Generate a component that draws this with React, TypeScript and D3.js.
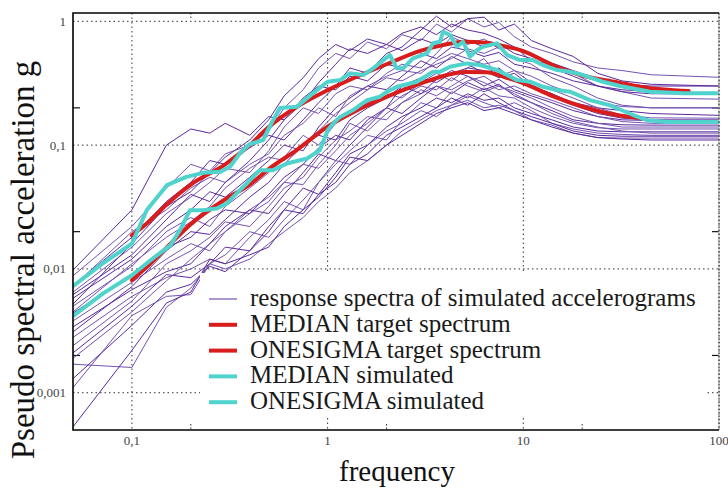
import { useEffect, useRef } from 'react';
import * as d3 from 'd3';

const width = 728;
const height = 488;

// frequency grid of the simulated response spectra
const freqs = [0.05, 0.1, 0.15, 0.2, 0.25, 0.3, 0.4, 0.5, 0.6, 0.75, 0.9, 1.1, 1.3, 1.6, 2, 2.4, 3, 3.6, 4.3, 5.2, 6.3, 7.5, 9, 11, 14, 18, 24, 32, 45, 100];

const spectra: number[][] = [
  [0.0098, 0.03, 0.1, 0.135, 0.125, 0.15, 0.12, 0.17, 0.16, 0.24, 0.3, 0.28, 0.36, 0.33, 0.45, 0.42, 0.55, 0.5, 0.62, 0.58, 0.52, 0.56, 0.45, 0.42, 0.38, 0.33, 0.3, 0.28, 0.27, 0.26],
  [0.0088, 0.022, 0.045, 0.07, 0.062, 0.085, 0.1, 0.13, 0.2, 0.28, 0.42, 0.55, 0.5, 0.68, 0.6, 0.78, 0.7, 0.95, 0.82, 1.05, 0.9, 0.98, 0.75, 0.62, 0.55, 0.47, 0.42, 0.4, 0.37, 0.353],
  [0.0074, 0.018, 0.035, 0.05, 0.075, 0.07, 0.095, 0.12, 0.11, 0.16, 0.22, 0.3, 0.42, 0.38, 0.55, 0.62, 0.85, 1.1, 0.9, 1.05, 1.08, 0.85, 0.95, 0.7, 0.6, 0.52, 0.38, 0.33, 0.31, 0.3],
  [0.0065, 0.015, 0.028, 0.038, 0.05, 0.065, 0.06, 0.09, 0.14, 0.2, 0.18, 0.26, 0.3, 0.28, 0.38, 0.45, 0.42, 0.55, 0.75, 0.65, 0.72, 0.6, 0.62, 0.48, 0.45, 0.38, 0.3, 0.27, 0.24, 0.235],
  [0.0058, 0.012, 0.022, 0.03, 0.042, 0.038, 0.055, 0.075, 0.1, 0.09, 0.14, 0.2, 0.24, 0.3, 0.28, 0.36, 0.48, 0.42, 0.52, 0.45, 0.38, 0.42, 0.33, 0.3, 0.26, 0.22, 0.2, 0.19, 0.18, 0.174],
  [0.005, 0.0105, 0.02, 0.026, 0.022, 0.032, 0.045, 0.06, 0.08, 0.12, 0.1, 0.15, 0.18, 0.22, 0.26, 0.24, 0.32, 0.38, 0.33, 0.42, 0.5, 0.36, 0.4, 0.32, 0.28, 0.24, 0.2, 0.175, 0.166, 0.165],
  [0.0044, 0.009, 0.015, 0.018, 0.025, 0.03, 0.028, 0.04, 0.055, 0.07, 0.095, 0.12, 0.11, 0.16, 0.2, 0.3, 0.26, 0.34, 0.4, 0.36, 0.3, 0.34, 0.28, 0.25, 0.22, 0.19, 0.17, 0.16, 0.158, 0.158],
  [0.0038, 0.0078, 0.012, 0.016, 0.014, 0.02, 0.03, 0.038, 0.05, 0.048, 0.07, 0.1, 0.15, 0.13, 0.18, 0.22, 0.28, 0.25, 0.3, 0.36, 0.32, 0.28, 0.3, 0.26, 0.23, 0.2, 0.17, 0.155, 0.15, 0.15],
  [0.0034, 0.0068, 0.0095, 0.011, 0.016, 0.022, 0.03, 0.028, 0.04, 0.06, 0.085, 0.075, 0.1, 0.14, 0.2, 0.18, 0.24, 0.3, 0.26, 0.32, 0.28, 0.31, 0.25, 0.22, 0.19, 0.16, 0.15, 0.146, 0.145, 0.145],
  [0.0028, 0.006, 0.0085, 0.01, 0.012, 0.011, 0.018, 0.025, 0.035, 0.03, 0.05, 0.07, 0.09, 0.12, 0.11, 0.16, 0.22, 0.2, 0.27, 0.24, 0.29, 0.25, 0.24, 0.2, 0.17, 0.15, 0.138, 0.135, 0.135, 0.135],
  [0.0021, 0.005, 0.009, 0.0085, 0.011, 0.015, 0.014, 0.02, 0.03, 0.045, 0.04, 0.06, 0.085, 0.1, 0.14, 0.17, 0.2, 0.24, 0.22, 0.26, 0.23, 0.24, 0.2, 0.18, 0.16, 0.14, 0.13, 0.128, 0.128, 0.128],
  [0.0017, 0.0016, 0.0049, 0.007, 0.011, 0.013, 0.02, 0.018, 0.025, 0.036, 0.05, 0.075, 0.07, 0.1, 0.13, 0.15, 0.19, 0.17, 0.21, 0.25, 0.22, 0.2, 0.22, 0.19, 0.15, 0.135, 0.125, 0.122, 0.12, 0.12],
  [0.0013, 0.0035, 0.0065, 0.0075, 0.0105, 0.0095, 0.014, 0.022, 0.03, 0.028, 0.04, 0.05, 0.07, 0.085, 0.12, 0.14, 0.17, 0.2, 0.24, 0.21, 0.26, 0.22, 0.19, 0.17, 0.15, 0.13, 0.12, 0.118, 0.118, 0.118],
  [0.0011, 0.0042, 0.006, 0.0062, 0.011, 0.01, 0.012, 0.016, 0.02, 0.026, 0.035, 0.045, 0.06, 0.075, 0.1, 0.13, 0.16, 0.19, 0.21, 0.23, 0.2, 0.21, 0.19, 0.16, 0.145, 0.125, 0.115, 0.114, 0.114, 0.114],
  [0.00053, 0.0022, 0.0053, 0.0065, 0.012, 0.011, 0.013, 0.015, 0.022, 0.03, 0.038, 0.055, 0.08, 0.075, 0.1, 0.12, 0.15, 0.18, 0.2, 0.22, 0.19, 0.2, 0.18, 0.16, 0.14, 0.125, 0.115, 0.112, 0.11, 0.11],
  [0.0072, 0.02, 0.03, 0.045, 0.055, 0.05, 0.07, 0.085, 0.12, 0.15, 0.2, 0.17, 0.25, 0.3, 0.36, 0.4, 0.38, 0.48, 0.55, 0.5, 0.45, 0.48, 0.4, 0.36, 0.3, 0.26, 0.22, 0.205, 0.2, 0.2],
  [0.0062, 0.013, 0.025, 0.04, 0.035, 0.05, 0.075, 0.11, 0.16, 0.22, 0.32, 0.45, 0.6, 0.55, 0.65, 0.58, 0.72, 0.65, 0.78, 0.7, 0.62, 0.66, 0.55, 0.5, 0.42, 0.36, 0.3, 0.27, 0.26, 0.26],
  [0.0045, 0.011, 0.018, 0.024, 0.032, 0.045, 0.065, 0.08, 0.075, 0.1, 0.13, 0.18, 0.22, 0.28, 0.35, 0.33, 0.4, 0.45, 0.5, 0.6, 0.55, 0.62, 0.5, 0.45, 0.35, 0.3, 0.24, 0.21, 0.2, 0.2],
  [0.0031, 0.0072, 0.014, 0.02, 0.019, 0.025, 0.038, 0.05, 0.07, 0.1, 0.12, 0.11, 0.16, 0.2, 0.24, 0.3, 0.35, 0.32, 0.38, 0.42, 0.4, 0.35, 0.38, 0.3, 0.26, 0.21, 0.18, 0.165, 0.16, 0.16],
  [0.0024, 0.0055, 0.011, 0.014, 0.018, 0.024, 0.022, 0.032, 0.045, 0.055, 0.08, 0.11, 0.13, 0.17, 0.16, 0.22, 0.26, 0.3, 0.28, 0.33, 0.36, 0.3, 0.27, 0.24, 0.2, 0.17, 0.15, 0.14, 0.14, 0.14],
  [0.0052, 0.016, 0.032, 0.042, 0.06, 0.08, 0.11, 0.16, 0.25, 0.35, 0.5, 0.65, 0.58, 0.72, 0.65, 0.8, 0.9, 0.78, 0.95, 0.85, 0.8, 0.72, 0.62, 0.55, 0.46, 0.4, 0.34, 0.31, 0.3, 0.3],
  [0.0019, 0.0045, 0.008, 0.012, 0.016, 0.02, 0.028, 0.035, 0.05, 0.07, 0.065, 0.09, 0.12, 0.15, 0.2, 0.25, 0.3, 0.28, 0.35, 0.3, 0.27, 0.3, 0.26, 0.22, 0.18, 0.155, 0.14, 0.13, 0.125, 0.125],
];

// target spectra (red)
const targetFreqs = [0.1, 0.12, 0.15, 0.2, 0.3, 0.4, 0.5, 0.7, 1, 1.4, 2, 3, 4, 5, 6.5, 8, 10, 14, 20, 30, 40, 70];
const medianTarget = [0.0187, 0.0235, 0.033, 0.048, 0.07, 0.1, 0.14, 0.205, 0.278, 0.355, 0.45, 0.58, 0.65, 0.685, 0.672, 0.63, 0.575, 0.445, 0.365, 0.322, 0.295, 0.273];
const onesigmaTarget = [0.0081, 0.0105, 0.0148, 0.023, 0.0365, 0.048, 0.064, 0.092, 0.141, 0.19, 0.245, 0.315, 0.365, 0.39, 0.388, 0.355, 0.317, 0.25, 0.205, 0.175, 0.165];

// simulated statistics (cyan)
const simMedianFreqs = [0.05, 0.071, 0.1, 0.119, 0.151, 0.19, 0.231, 0.282, 0.317, 0.357, 0.401, 0.468, 0.526, 0.571, 0.698, 0.842, 1, 1.16, 1.3, 1.52, 1.71, 2.08, 2.26, 2.43, 2.73, 3.22, 3.46, 3.75, 3.89, 4.22, 4.58, 4.92, 5.34, 5.8, 6.22, 7.34, 8.26, 9.62, 11.2, 12.6, 14.9, 17.3, 20.2, 25.5, 31.2, 44.4, 65.5, 100];
const simMedian = [0.00725, 0.0111, 0.016, 0.0298, 0.0475, 0.0554, 0.0597, 0.0608, 0.0668, 0.0862, 0.102, 0.11, 0.159, 0.199, 0.204, 0.263, 0.325, 0.335, 0.38, 0.368, 0.417, 0.534, 0.417, 0.417, 0.502, 0.551, 0.664, 0.684, 0.824, 0.775, 0.623, 0.684, 0.517, 0.586, 0.623, 0.664, 0.534, 0.486, 0.486, 0.443, 0.404, 0.391, 0.368, 0.325, 0.3, 0.27, 0.262, 0.262];
const simSigmaFreqs = [0.05, 0.071, 0.1, 0.124, 0.157, 0.176, 0.198, 0.231, 0.271, 0.305, 0.343, 0.386, 0.416, 0.451, 0.526, 0.62, 0.785, 0.914, 1, 1.07, 1.16, 1.35, 1.59, 1.85, 2.01, 2.26, 2.86, 3.46, 3.75, 4.22, 5.15, 6.01, 7.34, 9.29, 10.8, 12.6, 14.9, 17.3, 21.9, 27.7, 36.4, 42.9, 54.2, 100];
const simSigma = [0.00415, 0.00632, 0.0089, 0.0117, 0.0155, 0.0206, 0.0298, 0.0298, 0.0308, 0.0338, 0.0407, 0.049, 0.0554, 0.0628, 0.0628, 0.0711, 0.078, 0.0911, 0.132, 0.15, 0.169, 0.192, 0.231, 0.246, 0.27, 0.296, 0.325, 0.391, 0.391, 0.43, 0.457, 0.443, 0.404, 0.335, 0.325, 0.296, 0.279, 0.27, 0.231, 0.21, 0.175, 0.159, 0.154, 0.154];

const xTicks = [0.1, 1, 10, 100];
const xTickLabels = ['0,1', '1', '10', '100'];
const yTicks = [1, 0.1, 0.01, 0.001];
const yTickLabels = ['1', '0,1', '0,01', '0,001'];
const xMinorTicks = [0.2, 2, 20];
const yMinorTicks = [0.2, 0.02, 0.002];

const legendLabels = [
  'response spectra of simulated accelerograms',
  'MEDIAN target spectrum',
  'ONESIGMA target spectrum',
  'MEDIAN simulated',
  'ONESIGMA simulated',
];

const PURPLE = ['#5a2a9c', '#7552b0'];
const RED = '#d91c1c';
const CYAN = '#4fd3cc';
const FONT = "Liberation Serif, DejaVu Serif, serif";

const App = () => {
  const svgRef = useRef<SVGSVGElement | null>(null);

  useEffect(() => {
    const svg = d3.select(svgRef.current);
    svg.selectAll('*').remove();

    const margin = { top: 13, right: 9, bottom: 58, left: 73 };
    const x = d3.scaleLog().domain([0.05, 100]).range([margin.left, width - margin.right]);
    const y = d3.scaleLog().domain([0.0005, 1.167]).range([height - margin.bottom, margin.top]);
    const [x0, x1] = x.range();
    const [y0, y1] = y.range();

    svg.append('defs').append('clipPath').attr('id', 'plot')
      .append('rect').attr('x', x0).attr('y', y1).attr('width', x1 - x0).attr('height', y0 - y1);

    // grid
    const grid = svg.append('g').attr('stroke', '#333').attr('stroke-width', 1).attr('stroke-dasharray', '1.5,3');
    grid.selectAll('.gx').data(xTicks).enter().append('line')
      .attr('x1', (d) => x(d)).attr('x2', (d) => x(d)).attr('y1', y1).attr('y2', y0);
    grid.selectAll('.gy').data(yTicks).enter().append('line')
      .attr('x1', x0).attr('x2', x1).attr('y1', (d) => y(d)).attr('y2', (d) => y(d));

    // minor ticks
    const minor = svg.append('g').attr('stroke', '#333').attr('stroke-dasharray', '1.5,2');
    xMinorTicks.forEach((t) => {
      minor.append('line').attr('x1', x(t)).attr('x2', x(t)).attr('y1', y1).attr('y2', y1 + 6);
      minor.append('line').attr('x1', x(t)).attr('x2', x(t)).attr('y1', y0 - 6).attr('y2', y0);
    });
    const minorY = svg.append('g').attr('stroke', '#111').attr('stroke-width', 1.2);
    yMinorTicks.forEach((t) => {
      minorY.append('line').attr('x1', x0).attr('x2', x0 + 7).attr('y1', y(t)).attr('y2', y(t));
      minorY.append('line').attr('x1', x1 - 7).attr('x2', x1).attr('y1', y(t)).attr('y2', y(t));
    });

    const plot = svg.append('g').attr('clip-path', 'url(#plot)');

    const line = d3.line<[number, number]>()
      .x((d) => x(d[0]))
      .y((d) => y(d[1]));
    const smooth = d3.line<[number, number]>()
      .x((d) => x(d[0]))
      .y((d) => y(d[1]))
      .curve(d3.curveMonotoneX);

    spectra.forEach((s, i) => {
      plot.append('path')
        .attr('d', line(s.map((v, j) => [freqs[j], v] as [number, number])))
        .attr('fill', 'none')
        .attr('stroke', PURPLE[i % 2])
        .attr('stroke-width', 1);
    });

    const pairs = (fs: number[], vs: number[]) => vs.map((v, j) => [fs[j], v] as [number, number]);

    [medianTarget, onesigmaTarget].forEach((s) => {
      plot.append('path')
        .attr('d', smooth(pairs(targetFreqs, s)))
        .attr('fill', 'none')
        .attr('stroke', RED)
        .attr('stroke-width', 4)
        .attr('stroke-linecap', 'round');
    });
    [[simMedianFreqs, simMedian], [simSigmaFreqs, simSigma]].forEach(([fs, vs]) => {
      plot.append('path')
        .attr('d', line(pairs(fs, vs)))
        .attr('fill', 'none')
        .attr('stroke', CYAN)
        .attr('stroke-width', 4)
        .attr('stroke-linejoin', 'round');
    });

    // frame
    svg.append('line').attr('x1', x1).attr('x2', x1).attr('y1', y1).attr('y2', y0)
      .attr('stroke', '#bbb').attr('stroke-width', 1);
    svg.append('line').attr('x1', x1).attr('x2', x1).attr('y1', y1).attr('y2', y0)
      .attr('stroke', '#222').attr('stroke-dasharray', '1.5,2');
    svg.append('path')
      .attr('d', `M${x1},${y1}H${x0}V${y0}H${x1}`)
      .attr('fill', 'none').attr('stroke', '#000').attr('stroke-width', 1.6);

    // legend
    const lg = svg.append('g');
    lg.append('rect').attr('x', 200).attr('y', 273).attr('width', 506).attr('height', 143).attr('fill', '#fff');
    const legendStyle = [
      { color: PURPLE[0], w: 1 },
      { color: RED, w: 4 },
      { color: RED, w: 4 },
      { color: CYAN, w: 4 },
      { color: CYAN, w: 4 },
    ];
    legendLabels.forEach((label, i) => {
      const cy = 299 + i * 25.8;
      lg.append('line').attr('x1', 209).attr('x2', 237).attr('y1', cy).attr('y2', cy)
        .attr('stroke', legendStyle[i].color).attr('stroke-width', legendStyle[i].w);
      lg.append('text').attr('x', 250).attr('y', cy + 7)
        .style('font-family', FONT).style('font-size', '25px').attr('fill', '#1a1a1a')
        .text(label);
    });

    // tick labels
    svg.append('g').selectAll('text').data(xTicks).enter().append('text')
      .attr('x', (d) => x(d)).attr('y', y0 + 15)
      .attr('text-anchor', 'middle')
      .style('font-family', FONT).style('font-size', '13px').attr('fill', '#444')
      .text((d, i) => xTickLabels[i]);
    svg.append('g').selectAll('text').data(yTicks).enter().append('text')
      .attr('x', x0 - 7).attr('y', (d) => y(d) + 4.5)
      .attr('text-anchor', 'end')
      .style('font-family', FONT).style('font-size', '13px').attr('fill', '#444')
      .text((d, i) => yTickLabels[i]);

    // axis titles
    svg.append('text')
      .attr('x', 397).attr('y', 481)
      .attr('text-anchor', 'middle')
      .style('font-family', FONT).style('font-size', '29px').attr('fill', '#111')
      .text('frequency');
    svg.append('text')
      .attr('transform', 'translate(34,260) rotate(-90)')
      .attr('text-anchor', 'middle')
      .style('font-family', FONT).style('font-size', '33px').attr('fill', '#111')
      .text('Pseudo spectral acceleration g');
  }, []);

  return (
    <svg ref={svgRef} width={width} height={height}
      style={{ position: 'absolute', left: 0, top: 0, background: '#fff' }} />
  );
};

export default App;
